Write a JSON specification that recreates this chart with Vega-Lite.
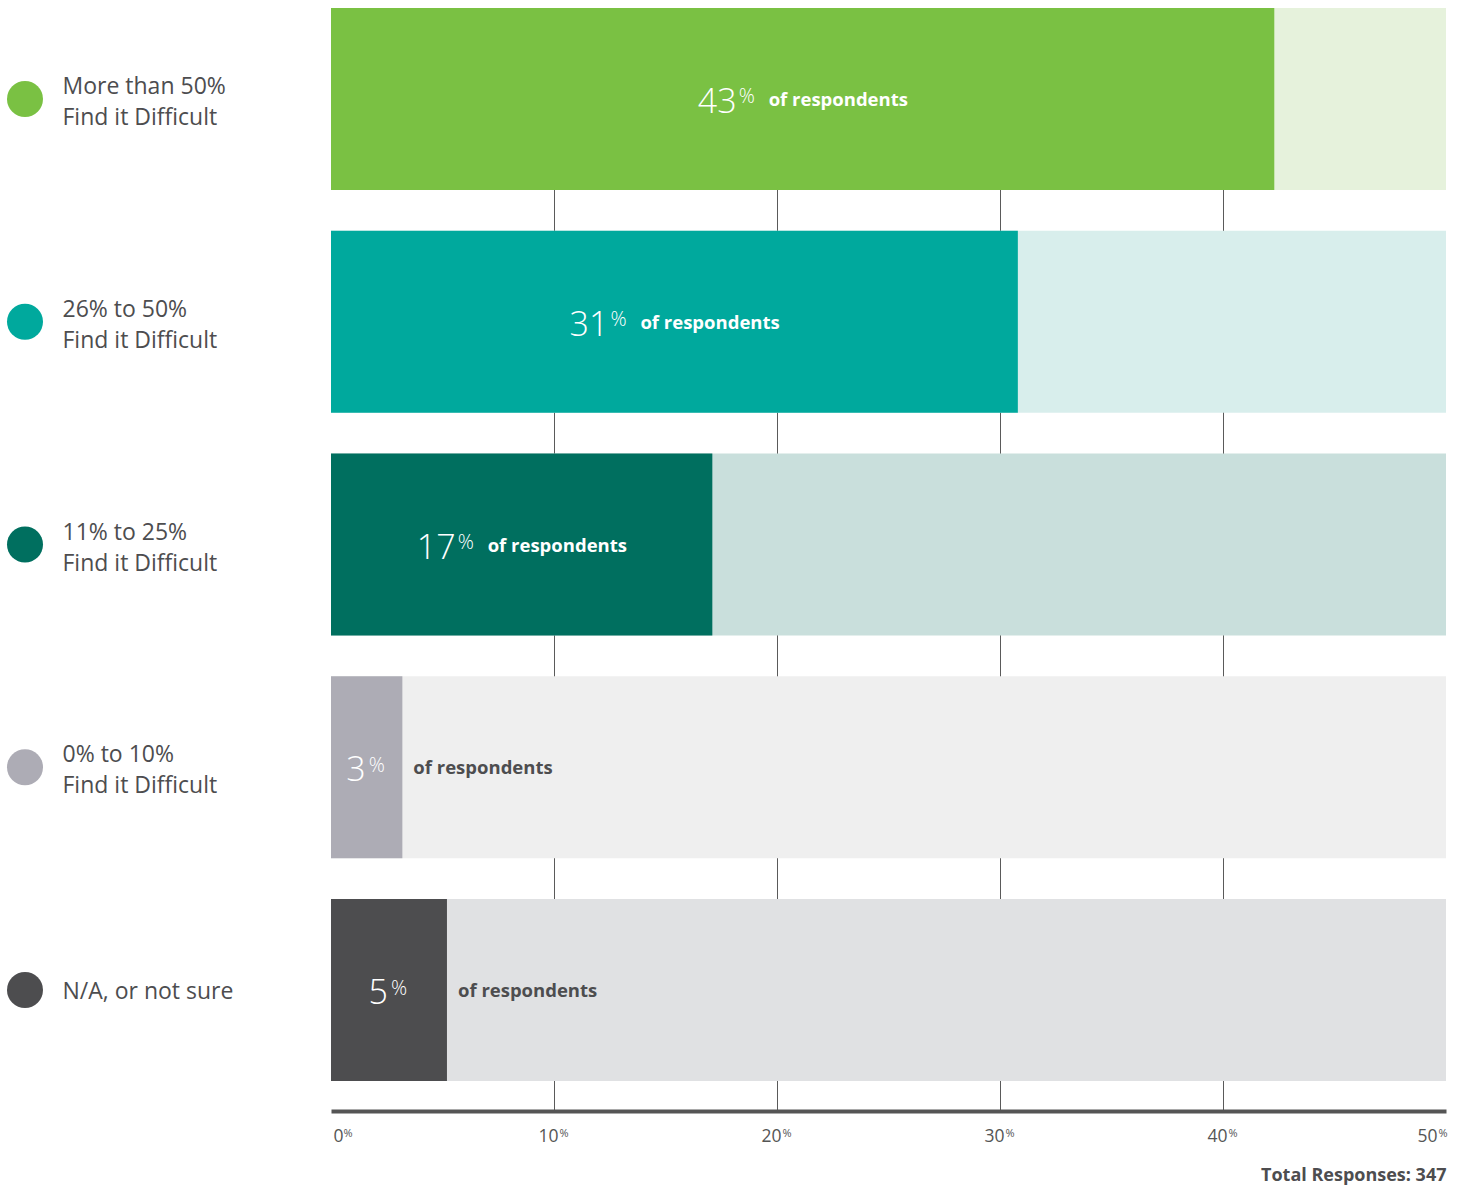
{
  "$schema": "https://vega.github.io/schema/vega-lite/v6.json",
  "width": 1115,
  "height": 1103,
  "autosize": {"type": "none"},
  "padding": {"left": 331, "top": 8, "right": 18, "bottom": 77},
  "background": "white",
  "config": {"view": {"stroke": null}, "font": "Open Sans"},
  "data": {
    "values": [
      {"range": "More than 50%", "value": 42.3, "label": 43},
      {"range": "26% to 50%", "value": 30.8, "label": 31},
      {"range": "11% to 25%", "value": 17.1, "label": 17},
      {"range": "0% to 10%", "value": 3.2, "label": 3},
      {"range": "N/A, or not sure", "value": 5.2, "label": 5}
    ]
  },
  "encoding": {
    "y": {
      "field": "range",
      "type": "nominal",
      "sort": ["More than 50%", "26% to 50%", "11% to 25%", "0% to 10%", "N/A, or not sure"],
      "scale": {"paddingInner": 0.183, "paddingOuter": 0.0673, "align": 0},
      "axis": {
        "title": null,
        "domain": false,
        "ticks": false,
        "tickSize": 0,
        "grid": false,
        "labelAlign": "left",
        "labelBaseline": "middle",
        "labelPadding": 269,
        "labelFont": "Open Sans",
        "labelFontSize": 23,
        "labelColor": "#4D4D4F",
        "labelLineHeight": 31,
        "labelLimit": 300,
        "labelOffset": {"condition": {"test": "datum.value == 'N/A, or not sure'", "value": 2}, "value": -12},
        "labelExpr": "datum.label == 'N/A, or not sure' ? datum.label : [datum.label, 'Find it Difficult']"
      }
    }
  },
  "layer": [
    {
      "mark": {"type": "bar"},
      "encoding": {
        "x": {
          "datum": 50,
          "type": "quantitative",
          "scale": {"domain": [0, 50], "nice": false},
          "axis": {
            "orient": "bottom",
            "values": [0, 10, 20, 30, 40, 50],
            "title": "Total Responses: 347",
            "titleAnchor": "end",
            "titleFont": "Open Sans",
            "titleFontSize": 18,
            "titleFontWeight": "bold",
            "titleColor": "#4D4D4F",
            "titlePadding": 22,
            "domain": true,
            "domainColor": "#555555",
            "domainWidth": 4,
            "ticks": false,
            "tickSize": 0,
            "grid": true,
            "gridColor": "#5a5a5a",
            "gridWidth": 1,
            "gridOpacity": {"condition": {"test": "datum.value == 0 || datum.value == 50", "value": 0}, "value": 1},
            "labelExpr": "'' + datum.value",
            "labelFont": "Open Sans",
            "labelFontSize": 17.5,
            "labelColor": "#555555",
            "labelBaseline": "top",
            "labelPadding": 16,
            "labelAlign": {"condition": {"test": "datum.value == 0", "value": "left"}, "value": "right"},
            "labelOffset": {"condition": [{"test": "datum.value == 0", "value": 2}, {"test": "datum.value == 50", "value": -9}], "value": 4},
            "labelFlush": false,
            "labelOverlap": false,
            "labelBound": false
          }
        },
        "fill": {
          "field": "range",
          "type": "nominal",
          "scale": {
            "domain": ["More than 50%", "26% to 50%", "11% to 25%", "0% to 10%", "N/A, or not sure"],
            "range": ["#E6F2DC", "#D8EEEC", "#C9DFDC", "#EFEFEF", "#E0E1E3"]
          },
          "legend": null
        }
      }
    },
    {
      "mark": {"type": "bar"},
      "encoding": {
        "x": {
          "field": "value",
          "type": "quantitative",
          "scale": {"domain": [0, 50], "nice": false},
          "axis": {
            "orient": "bottom",
            "values": [0, 10, 20, 30, 40, 50],
            "title": null,
            "domain": false,
            "ticks": false,
            "tickSize": 0,
            "grid": false,
            "labelExpr": "'%'",
            "labelFont": "Open Sans",
            "labelFontSize": 11,
            "labelColor": "#555555",
            "labelBaseline": "top",
            "labelPadding": 16,
            "labelAlign": "left",
            "labelOffset": {"condition": [{"test": "datum.value == 0", "value": 12}, {"test": "datum.value == 50", "value": -8}], "value": 5},
            "labelFlush": false,
            "labelOverlap": false,
            "labelBound": false
          }
        },
        "fill": {
          "field": "range",
          "type": "nominal",
          "scale": {
            "domain": ["More than 50%", "26% to 50%", "11% to 25%", "0% to 10%", "N/A, or not sure"],
            "range": ["#7AC143", "#00A99D", "#006F5F", "#ADACB5", "#4D4D4F"]
          },
          "legend": {
            "orient": "none",
            "legendX": -324,
            "legendY": 73,
            "title": null,
            "direction": "vertical",
            "symbolType": "circle",
            "symbolSize": 1296,
            "symbolStrokeWidth": 0,
            "symbolOpacity": 1,
            "symbolOffset": 0,
            "labelOpacity": 0,
            "labelFontSize": 1,
            "rowPadding": 186.75,
            "padding": 0
          }
        }
      }
    },
    {
      "transform": [{"filter": "datum.value >= 10"}],
      "mark": {"type": "text", "align": "right", "baseline": "alphabetic", "dx": -66, "dy": 14, "fontSize": 34, "fontWeight": 300, "color": "white"},
      "encoding": {
        "x": {"field": "value", "type": "quantitative", "scale": {"domain": [0, 100], "nice": false}, "axis": null},
        "text": {"field": "label", "type": "quantitative"}
      }
    },
    {
      "transform": [{"filter": "datum.value >= 10"}],
      "mark": {"type": "text", "align": "left", "baseline": "alphabetic", "dx": -64, "dy": 4.5, "fontSize": 20, "fontWeight": 300, "color": "white", "text": "%"},
      "encoding": {
        "x": {"field": "value", "type": "quantitative", "scale": {"domain": [0, 100], "nice": false}, "axis": null}
      }
    },
    {
      "transform": [{"filter": "datum.value >= 10"}],
      "mark": {"type": "text", "align": "left", "baseline": "alphabetic", "dx": -34, "dy": 7, "fontSize": 18.5, "fontWeight": "bold", "color": "white", "text": "of respondents"},
      "encoding": {
        "x": {"field": "value", "type": "quantitative", "scale": {"domain": [0, 100], "nice": false}, "axis": null}
      }
    },
    {
      "transform": [{"filter": "datum.value < 10"}],
      "mark": {"type": "text", "align": "right", "baseline": "alphabetic", "dx": -1, "dy": 14, "fontSize": 34, "fontWeight": 300, "color": "white"},
      "encoding": {
        "x": {"field": "value", "type": "quantitative", "scale": {"domain": [0, 100], "nice": false}, "axis": null},
        "text": {"field": "label", "type": "quantitative"}
      }
    },
    {
      "transform": [{"filter": "datum.value < 10"}],
      "mark": {"type": "text", "align": "left", "baseline": "alphabetic", "dx": 2, "dy": 4.5, "fontSize": 20, "fontWeight": 300, "color": "white", "text": "%"},
      "encoding": {
        "x": {"field": "value", "type": "quantitative", "scale": {"domain": [0, 100], "nice": false}, "axis": null}
      }
    },
    {
      "transform": [{"filter": "datum.value < 10"}],
      "mark": {"type": "text", "align": "left", "baseline": "alphabetic", "dx": 11, "dy": 7, "fontSize": 18.5, "fontWeight": "bold", "color": "#4D4D4F", "text": "of respondents"},
      "encoding": {
        "x": {"field": "value", "type": "quantitative", "scale": {"domain": [0, 50], "nice": false}, "axis": null}
      }
    }
  ],
  "resolve": {"scale": {"x": "independent", "fill": "independent"}, "axis": {"x": "independent"}}
}
